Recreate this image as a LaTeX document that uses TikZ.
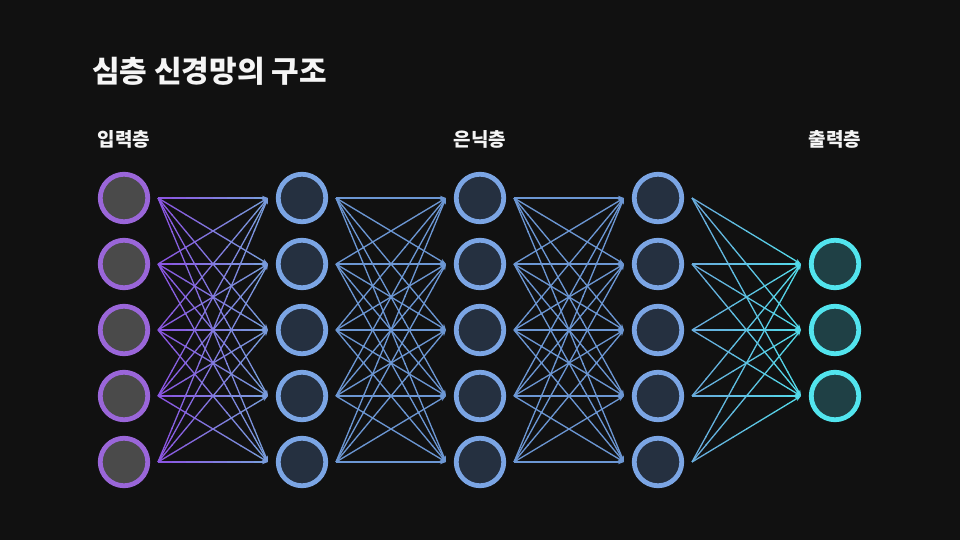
\documentclass[tikz,border=0pt]{standalone}
\usepackage{fontspec}
\setmainfont{Noto Sans CJK KR}
\usetikzlibrary{calc,arrows.meta}
\definecolor{bg}{HTML}{111111}
\definecolor{inpstroke}{HTML}{9A66D9}
\definecolor{inpfill}{HTML}{4A4A4A}
\definecolor{hidstroke}{HTML}{7BA5E4}
\definecolor{hidfill}{HTML}{253040}
\definecolor{outstroke}{HTML}{52E4EE}
\definecolor{outfill}{HTML}{1F4045}
\definecolor{ePurple}{HTML}{8C52E2}
\definecolor{eBlueA}{HTML}{78A0DC}
\definecolor{eBlue}{HTML}{6C97D4}
\definecolor{eBlueB}{HTML}{6AAADC}
\definecolor{eCyan}{HTML}{52DCEA}
\definecolor{txt}{HTML}{F5F5F5}
\tikzset{
  neuron/.style={circle,inner sep=0pt,minimum size=47.5pt,line width=4.8pt},
  inpnode/.style={neuron,draw=inpstroke,fill=inpfill},
  hidnode/.style={neuron,draw=hidstroke,fill=hidfill},
  outnode/.style={neuron,draw=outstroke,fill=outfill},
  layerlabel/.style={text=txt,font=\bfseries\fontsize{19}{22}\selectfont,inner sep=0pt,anchor=base},
  titletext/.style={text=txt,font=\bfseries\fontsize{30}{36}\selectfont,inner sep=0pt,anchor=base west},
  seg/.style={line width=1.3pt,line cap=butt},
  tipped/.style={-{Stealth[length=6pt,width=4.5pt]}}
}
% gradient edge: #1 source, #2 target, #3 start colour, #4 end colour
\newcommand{\gradedge}[4]{%
  \coordinate (gs) at ([xshift=34]#1.center);
  \coordinate (ge) at ([xshift=-34]#2.center);
  \foreach \k in {0,...,7}{%
    \pgfmathtruncatemacro{\pc}{round(100*(\k+0.5)/8)}%
    \pgfmathsetmacro{\ta}{\k/8}%
    \pgfmathsetmacro{\tb}{(\k+1)/8}%
    \ifnum\k=7
      \draw[seg,tipped,draw=#4!\pc!#3] ($(gs)!\ta!(ge)$) -- ($(gs)!\tb!(ge)$);
    \else
      \draw[seg,draw=#4!\pc!#3] ($(gs)!\ta!(ge)$) -- ($(gs)!\tb+0.005!(ge)$);
    \fi
  }%
}
\begin{document}
\begin{tikzpicture}[x=1pt,y=-1pt]
\fill[bg] (0,0) rectangle (960,540);
\useasboundingbox (0,0) rectangle (960,540);

\node[titletext] (title) at (92,83) {심층 신경망의 구조};
\node[layerlabel] (lin) at (124,147) {입력층};
\node[layerlabel] (lhid) at (480,147) {은닉층};
\node[layerlabel] (lout) at (835,147) {출력층};

\foreach \j/\y in {1/198,2/264,3/330,4/396,5/462}{
  \node[inpnode] (A\j) at (124,\y) {};
  \node[hidnode] (B\j) at (302,\y) {};
  \node[hidnode] (C\j) at (480,\y) {};
  \node[hidnode] (D\j) at (658,\y) {};
}
\foreach \j/\y in {1/264,2/330,3/396}{
  \node[outnode] (E\j) at (835,\y) {};
}

\foreach \a in {1,...,5}{
  \foreach \b in {1,...,5}{
    \gradedge{A\a}{B\b}{ePurple}{eBlueA}
    \gradedge{B\a}{C\b}{eBlue}{eBlue}
    \gradedge{C\a}{D\b}{eBlue}{eBlue}
  }
  \foreach \b in {1,...,3}{
    \gradedge{D\a}{E\b}{eBlueB}{eCyan}
  }
}
\end{tikzpicture}
\end{document}
